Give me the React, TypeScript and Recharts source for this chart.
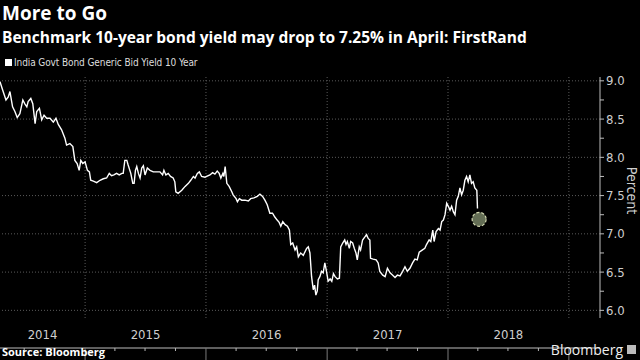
import React from 'react';
import { ComposedChart, Line, XAxis, YAxis, ReferenceLine } from 'recharts';

// India 10y generic bid yield
const dates = [
  '2014-04-19', '2014-04-27', '2014-05-07', '2014-05-14', '2014-05-19', '2014-05-27', '2014-06-03', '2014-06-10',
  '2014-06-18', '2014-06-27', '2014-07-03', '2014-07-09', '2014-07-13', '2014-07-21', '2014-07-27', '2014-08-03',
  '2014-08-08', '2014-08-16', '2014-08-23', '2014-08-30', '2014-09-07', '2014-09-17', '2014-09-27', '2014-10-05',
  '2014-10-12', '2014-10-22', '2014-11-01', '2014-11-06', '2014-11-16', '2014-11-25', '2014-12-01', '2014-12-08',
  '2014-12-14', '2014-12-19', '2014-12-25', '2015-01-01', '2015-01-08', '2015-01-14', '2015-01-18', '2015-01-26',
  '2015-02-05', '2015-02-15', '2015-02-25', '2015-03-07', '2015-03-15', '2015-03-22', '2015-03-29', '2015-04-06',
  '2015-04-14', '2015-04-22', '2015-04-26', '2015-05-01', '2015-05-07', '2015-05-11', '2015-05-19', '2015-05-25',
  '2015-05-29', '2015-06-02', '2015-06-06', '2015-06-11', '2015-06-16', '2015-06-21', '2015-06-26', '2015-07-01',
  '2015-07-08', '2015-07-16', '2015-07-26', '2015-08-05', '2015-08-15', '2015-08-23', '2015-08-27', '2015-09-02',
  '2015-09-09', '2015-09-16', '2015-09-24', '2015-09-29', '2015-10-02', '2015-10-09', '2015-10-20', '2015-10-30',
  '2015-11-09', '2015-11-16', '2015-11-24', '2015-11-29', '2015-12-06', '2015-12-12', '2015-12-19', '2015-12-29',
  '2016-01-03', '2016-01-13', '2016-01-21', '2016-01-28', '2016-02-04', '2016-02-10', '2016-02-15', '2016-02-21',
  '2016-02-24', '2016-02-28', '2016-03-04', '2016-03-11', '2016-03-19', '2016-03-23', '2016-04-01', '2016-04-05',
  '2016-04-11', '2016-04-18', '2016-04-28', '2016-05-08', '2016-05-15', '2016-05-25', '2016-06-04', '2016-06-12',
  '2016-06-20', '2016-06-27', '2016-07-04', '2016-07-12', '2016-07-20', '2016-07-27', '2016-08-03', '2016-08-09',
  '2016-08-14', '2016-08-20', '2016-08-27', '2016-09-03', '2016-09-09', '2016-09-13', '2016-09-19', '2016-09-26',
  '2016-10-01', '2016-10-06', '2016-10-13', '2016-10-21', '2016-10-31', '2016-11-05', '2016-11-10', '2016-11-15',
  '2016-11-20', '2016-11-24', '2016-11-28', '2016-12-02', '2016-12-05', '2016-12-10', '2016-12-15', '2016-12-20',
  '2016-12-25', '2016-12-30', '2017-01-04', '2017-01-10', '2017-01-15', '2017-01-20', '2017-01-25', '2017-02-01',
  '2017-02-07', '2017-02-11', '2017-02-17', '2017-02-23', '2017-02-27', '2017-03-03', '2017-03-09', '2017-03-13',
  '2017-03-19', '2017-03-24', '2017-03-29', '2017-04-02', '2017-04-08', '2017-04-12', '2017-04-18', '2017-04-25',
  '2017-04-30', '2017-05-05', '2017-05-10', '2017-05-12', '2017-05-20', '2017-05-29', '2017-06-04', '2017-06-09',
  '2017-06-18', '2017-06-25', '2017-07-02', '2017-07-10', '2017-07-18', '2017-07-25', '2017-08-01', '2017-08-09',
  '2017-08-17', '2017-08-24', '2017-08-31', '2017-09-08', '2017-09-16', '2017-09-23', '2017-09-30', '2017-10-06',
  '2017-10-16', '2017-10-23', '2017-10-28', '2017-11-05', '2017-11-10', '2017-11-16', '2017-11-20', '2017-11-26',
  '2017-12-03', '2017-12-08', '2017-12-13', '2017-12-18', '2017-12-23', '2017-12-28', '2018-01-02', '2018-01-07',
  '2018-01-12', '2018-01-17', '2018-01-22', '2018-01-27', '2018-02-01', '2018-02-06', '2018-02-11', '2018-02-16',
  '2018-02-21', '2018-02-26', '2018-03-03', '2018-03-08', '2018-03-13', '2018-03-18', '2018-03-23', '2018-03-29',
  '2018-03-31',
];

const yields = [
  8.99, 8.88, 8.75, 8.79, 8.86, 8.66, 8.60, 8.52,
  8.57, 8.75, 8.70, 8.66, 8.73, 8.77, 8.70, 8.44,
  8.60, 8.64, 8.49, 8.55, 8.51, 8.51, 8.46, 8.51,
  8.43, 8.36, 8.25, 8.16, 8.18, 8.14, 7.96, 7.92,
  7.83, 7.96, 7.92, 7.94, 7.83, 7.81, 7.70, 7.69,
  7.67, 7.70, 7.72, 7.73, 7.79, 7.76, 7.77, 7.79,
  7.77, 7.79, 7.79, 7.96, 7.96, 7.90, 7.79, 7.66,
  7.66, 7.83, 7.88, 7.79, 7.73, 7.86, 7.89, 7.77,
  7.86, 7.83, 7.81, 7.81, 7.81, 7.77, 7.83, 7.77,
  7.79, 7.75, 7.73, 7.68, 7.55, 7.53, 7.57, 7.62,
  7.66, 7.70, 7.75, 7.73, 7.79, 7.81, 7.75, 7.74,
  7.75, 7.77, 7.80, 7.78, 7.82, 7.79, 7.73, 7.79,
  7.75, 7.88, 7.66, 7.62, 7.55, 7.51, 7.46, 7.42,
  7.46, 7.44, 7.44, 7.43, 7.46, 7.47, 7.49, 7.52,
  7.49, 7.44, 7.38, 7.27, 7.27, 7.22, 7.18, 7.15,
  7.10, 7.16, 7.12, 7.10, 7.05, 6.86, 6.88, 6.79,
  6.83, 6.70, 6.75, 6.72, 6.81, 6.83, 6.75, 6.44,
  6.27, 6.33, 6.20, 6.25, 6.40, 6.44, 6.51, 6.49,
  6.62, 6.51, 6.38, 6.41, 6.38, 6.48, 6.44, 6.41,
  6.42, 6.83, 6.88, 6.92, 6.86, 6.90, 6.81, 6.90,
  6.88, 6.81, 6.75, 6.66, 6.83, 6.79, 6.92, 6.96,
  6.99, 6.94, 6.92, 6.68, 6.67, 6.66, 6.62, 6.51,
  6.46, 6.44, 6.55, 6.49, 6.46, 6.43, 6.46, 6.45,
  6.51, 6.57, 6.51, 6.55, 6.62, 6.67, 6.66, 6.76,
  6.79, 6.81, 6.86, 6.92, 6.90, 7.05, 6.90, 7.03,
  7.07, 7.05, 7.16, 7.18, 7.25, 7.40, 7.36, 7.31,
  7.36, 7.29, 7.25, 7.44, 7.49, 7.60, 7.51, 7.57,
  7.70, 7.75, 7.68, 7.77, 7.66, 7.68, 7.60, 7.57,
  7.33,
];

// FirstRand forecast for April
const forecastDate = '2018-04-05';
const forecastYield = 7.19;

const yearLabels = ['2014', '2015', '2016', '2017', '2018'];
const yearLines = ['2015', '2016', '2017', '2018', '2019'];
const yTicks = [6.0, 6.25, 6.5, 6.75, 7.0, 7.25, 7.5, 7.75, 8.0, 8.25, 8.5, 8.75, 9.0];
const gridValues = [6.0, 6.5, 7.0, 7.5, 8.0, 8.5, 9.0];

const ts = (d: string) => Date.parse(d + 'T00:00:00Z');
const START = ts('2014-04-19');
const END = ts('2019-04-05');

const series = dates.map((d, i) => ({ t: ts(d), v: yields[i] }));
const forecast = [{ t: ts(forecastDate), v: forecastYield }];

const yearStarts = yearLines.map((y) => ts(`${y}-01-01`));
const quarterTicks: number[] = [];
for (let y = 2014; y <= 2019; y++) {
  for (const m of ['01', '04', '07', '10']) {
    const t = ts(`${y}-${m}-01`);
    if (t > START && t <= ts('2019-01-01')) quarterTicks.push(t);
  }
}
const labelTicks = yearLabels.map((y) => {
  const a = Math.max(ts(`${y}-01-01`), START);
  const b = Math.min(ts(`${+y + 1}-01-01`), END);
  return (a + b) / 2;
});

const AXIS_FONT = '"Liberation Sans Narrow", "DejaVu Sans Condensed", "Roboto", sans-serif';
const TITLE_FONT = '"Open Sans", "DejaVu Sans", sans-serif';

const QuarterTick = (props: any) => {
  const { x, y, payload } = props;
  const isYear = new Date(payload.value).getUTCMonth() === 0;
  return (
    <line
      x1={x}
      x2={x}
      y1={y}
      y2={y + (isYear ? 27 : 3)}
      stroke={isYear ? '#7a7a7a' : '#b5b5b5'}
      strokeWidth={1}
    />
  );
};

const YearLabel = (props: any) => {
  const { x, y, payload } = props;
  return (
    <text x={x} y={y + 21} textAnchor="middle" fill="#cfcfcf" fontSize={13} fontFamily={AXIS_FONT}>
      {new Date(payload.value).getUTCFullYear()}
    </text>
  );
};

const YTick = (props: any) => {
  const { x, y, payload } = props;
  const v = payload.value as number;
  const major = Math.abs(v * 2 - Math.round(v * 2)) < 1e-6;
  return (
    <g>
      <line x1={x} x2={x + 4} y1={y} y2={y} stroke="#bdbdbd" />
      {major && (
        <text x={x + 6} y={y} dy="0.35em" fill="#cfcfcf" fontSize={13} fontFamily={AXIS_FONT}>
          {v.toFixed(1)}
        </text>
      )}
    </g>
  );
};

const PercentLabel = (props: any) => {
  const vb = props.viewBox;
  const cx = vb.x + 32;
  const cy = vb.y + vb.height / 2 - 7;
  return (
    <text
      x={cx}
      y={cy}
      transform={`rotate(90 ${cx} ${cy})`}
      textAnchor="middle"
      dominantBaseline="central"
      fill="#cfcfcf"
      fontSize={14}
      fontFamily={AXIS_FONT}
    >
      Percent
    </text>
  );
};

export default function App() {
  return (
    <div style={{ position: 'absolute', left: 0, top: 0, width: 640, height: 360, background: '#000', overflow: 'hidden' }}>
      <div style={{ position: 'absolute', left: 2, top: 0, color: '#fff', fontFamily: TITLE_FONT, fontWeight: 700, fontSize: 19 }}>
        More to Go
      </div>
      <div style={{ position: 'absolute', left: 2, top: 26, color: '#fff', fontFamily: TITLE_FONT, fontWeight: 700, fontSize: 15.5 }}>
        Benchmark 10-year bond yield may drop to 7.25% in April: FirstRand
      </div>
      <div style={{ position: 'absolute', left: 5, top: 57, display: 'flex', alignItems: 'center', gap: 2, color: '#ddd', fontFamily: AXIS_FONT, fontSize: 10, letterSpacing: -0.1 }}>
        <span style={{ width: 7, height: 7, background: '#fff', display: 'inline-block' }} />
        <span>India Govt Bond Generic Bid Yield 10 Year</span>
      </div>

      <ComposedChart width={640} height={360} margin={{ top: 77, right: 0, bottom: 11, left: 0 }} style={{ position: 'absolute', left: 0, top: 0 }}>
        <XAxis
          xAxisId="main"
          type="number"
          dataKey="t"
          domain={[START, END]}
          allowDataOverflow
          ticks={quarterTicks}
          interval={0}
          tick={<QuarterTick />}
          tickLine={false}
          tickSize={0}
          tickMargin={0}
          height={1}
          axisLine={{ stroke: '#bdbdbd' }}
        />
        <XAxis
          xAxisId="labels"
          type="number"
          dataKey="t"
          domain={[START, END]}
          allowDataOverflow
          ticks={labelTicks}
          interval={0}
          tick={<YearLabel />}
          tickLine={false}
          tickSize={0}
          tickMargin={0}
          height={30}
          axisLine={false}
        />
        <YAxis
          yAxisId="r"
          orientation="right"
          type="number"
          domain={[5.9, 9.05]}
          allowDataOverflow
          ticks={yTicks}
          interval={0}
          width={40}
          tick={<YTick />}
          tickLine={false}
          tickSize={0}
          tickMargin={0}
          axisLine={{ stroke: '#bdbdbd' }}
          label={{ content: <PercentLabel /> }}
        />
        {gridValues.map((v) => (
          <ReferenceLine key={'h' + v} xAxisId="main" yAxisId="r" y={v} stroke="#5a5a5a" strokeDasharray="1 2" />
        ))}
        {yearStarts.map((t) => (
          <ReferenceLine key={'v' + t} xAxisId="main" yAxisId="r" x={t} stroke="#5a5a5a" strokeDasharray="1 2" />
        ))}
        <Line
          xAxisId="main"
          yAxisId="r"
          data={series}
          dataKey="v"
          type="linear"
          stroke="#ffffff"
          strokeWidth={1.4}
          dot={false}
          isAnimationActive={false}
        />
        <Line
          xAxisId="labels"
          yAxisId="r"
          data={forecast}
          dataKey="v"
          stroke="none"
          dot={{ r: 7, fill: '#646e55', stroke: '#d6dbb4', strokeWidth: 1.2, strokeDasharray: '3 2' }}
          isAnimationActive={false}
        />
      </ComposedChart>

      <div style={{ position: 'absolute', left: 2, top: 344, color: '#fff', fontFamily: TITLE_FONT, fontWeight: 700, fontSize: 11 }}>
        Source: Bloomberg
      </div>
      <div style={{ position: 'absolute', right: 4, top: 340, display: 'flex', alignItems: 'center', gap: 4, color: '#eee', fontFamily: TITLE_FONT, fontSize: 14 }}>
        <span>Bloomberg</span>
        <span style={{ width: 9, height: 9, background: '#bbb', display: 'inline-block' }} />
      </div>
    </div>
  );
}
